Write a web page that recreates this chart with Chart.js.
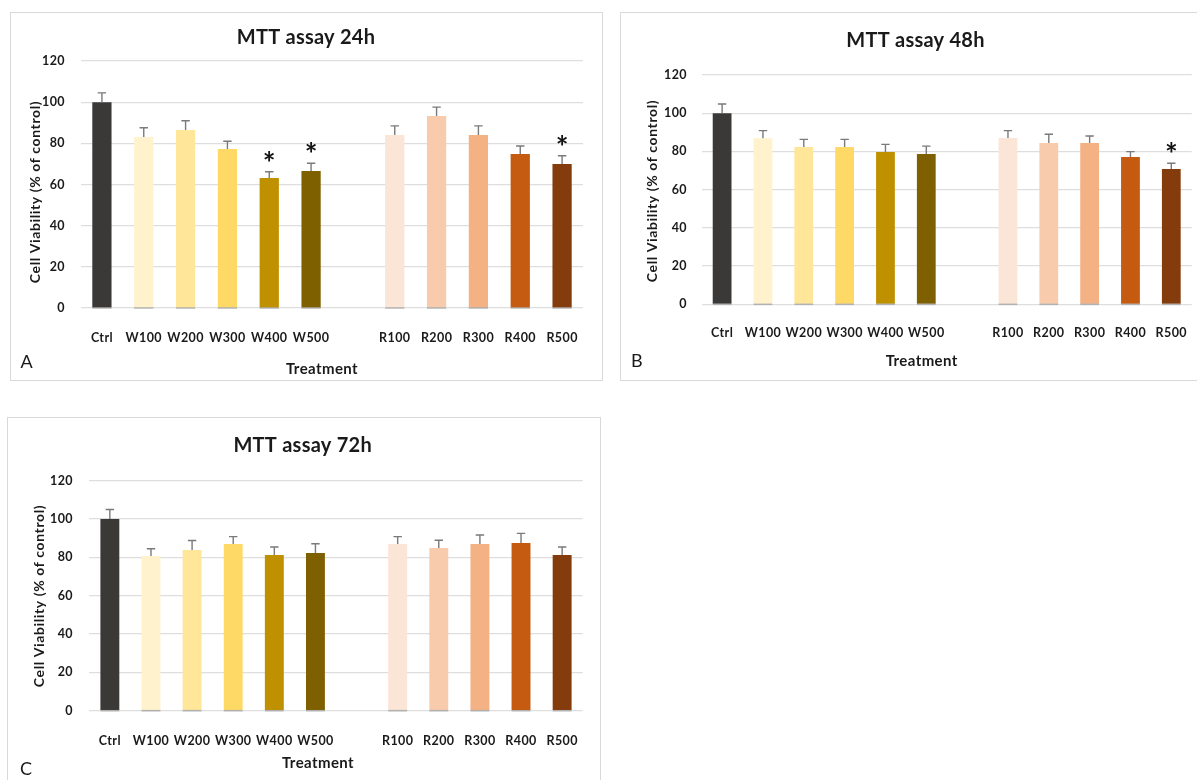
<!DOCTYPE html>
<html>
<head>
<meta charset="utf-8">
<title>MTT assay – cell viability</title>
<script src="https://cdn.jsdelivr.net/npm/chart.js@4.4.1/dist/chart.umd.min.js"></script>
<style>
  html, body { margin: 0; padding: 0; background: #fff; width: 1197px; height: 780px; overflow: hidden; }
  canvas { position: absolute; }
  .frame { position: absolute; box-sizing: border-box; border: 1px solid #d9d9d9; pointer-events: none; }
</style>
</head>
<body>
<script>
// ---- data -------------------------------------------------------------
// Treatment groups (empty slot separates the W and R series)
const treatments = ['Ctrl', 'W100', 'W200', 'W300', 'W400', 'W500', '', 'R100', 'R200', 'R300', 'R400', 'R500'];

// Cell viability (% of control), mean and SD
const viability24h = [100, 83.1, 86.5, 77.2, 63.2, 66.6, null, 84.0, 93.3, 84.0, 74.8, 70.0];
const sd24h        = [4.5, 4.5, 4.5, 3.8, 3.0, 3.7, null, 4.5, 4.3, 4.5, 3.9, 4.0];
const significant24h = ['W400', 'W500', 'R500'];

const viability48h = [100, 86.9, 82.3, 82.3, 79.7, 78.7, null, 87.0, 84.4, 84.4, 77.1, 70.8];
const sd48h        = [4.8, 4.0, 4.0, 4.0, 4.0, 4.1, null, 3.9, 4.6, 3.7, 2.8, 3.0];
const significant48h = ['R500'];

const viability72h = [100, 80.7, 83.8, 87.0, 81.2, 82.3, null, 87.0, 84.9, 87.0, 87.5, 81.2];
const sd72h        = [5.0, 3.8, 5.0, 3.8, 4.2, 4.8, null, 3.8, 4.0, 4.7, 5.0, 4.2];
const significant72h = [];

const yTicks = [0, 20, 40, 60, 80, 100, 120];

// ---- styling ----------------------------------------------------------
const barColors = ['#3b3838', '#fff2cc', '#ffe699', '#ffd966', '#bf9000', '#7f6000', 'rgba(0,0,0,0)',
                   '#fbe5d6', '#f8cbad', '#f4b183', '#c55a11', '#843c0c'];
const FONT = 'Lato, "Open Sans", "Liberation Sans", sans-serif';
const TEXT = '#1a1a1a';

// Panel geometry (canvas origin on the page, plot area inside the canvas, text anchors)
const panels = [
  {
    title: 'MTT assay 24h', letter: 'A',
    values: viability24h, sd: sd24h, sig: significant24h,
    left: 10, top: 12, width: 593, height: 369, frameW: 593, frameH: 369,
    area: { l: 71, r: 573, t: 49, b: 296 }, yPad: 16, xPad: 14.6,
    titlePos: [296, 25.5], yTitlePos: [25.5, 180], xTitlePos: [312, 356.7], letterPos: [16.5, 349.7]
  },
  {
    title: 'MTT assay 48h', letter: 'B',
    values: viability48h, sd: sd48h, sig: significant48h,
    left: 620, top: 12, width: 580, height: 369, frameW: 590, frameH: 369,
    area: { l: 81.7, r: 575, t: 63, b: 292.3 }, yPad: 14.7, xPad: 13.6,
    titlePos: [295.5, 28.8], yTitlePos: [32.5, 179], xTitlePos: [301.7, 349], letterPos: [16.7, 348.7]
  },
  {
    title: 'MTT assay 72h', letter: 'C',
    values: viability72h, sd: sd72h, sig: significant72h,
    left: 7, top: 417, width: 594, height: 366, frameW: 594, frameH: 380,
    area: { l: 82.3, r: 575.7, t: 63.7, b: 293.7 }, yPad: 16.3, xPad: 15.2,
    titlePos: [295.7, 28.8], yTitlePos: [32.5, 179], xTitlePos: [311, 345.8], letterPos: [19, 352]
  }
];

// Error bars, significance marks and panel texts
function makeOverlay(p) {
  return {
    id: 'mttOverlay',
    beforeDraw(chart) {
      // slightly open tracking for the axis labels
      chart.ctx.letterSpacing = '0.4px';
    },
    afterDatasetsDraw(chart) {
      const ctx = chart.ctx;
      const ys = chart.scales.y;
      const meta = chart.getDatasetMeta(0);
      const base = ys.getPixelForValue(0);
      ctx.save();
      ctx.letterSpacing = '0px';
      meta.data.forEach((bar, i) => {
        const v = p.values[i];
        if (v == null) return;
        // axis line showing through the bar foot
        ctx.strokeStyle = 'rgba(140,140,140,0.55)';
        ctx.lineWidth = 1.6;
        ctx.beginPath();
        ctx.moveTo(bar.x - bar.width / 2, base);
        ctx.lineTo(bar.x + bar.width / 2, base);
        ctx.stroke();
        // upper error bar
        const yTop = ys.getPixelForValue(v + p.sd[i]);
        ctx.strokeStyle = '#7a7a7a';
        ctx.lineWidth = 1.4;
        ctx.beginPath();
        ctx.moveTo(bar.x, bar.y);
        ctx.lineTo(bar.x, yTop);
        ctx.moveTo(bar.x - 4.2, yTop);
        ctx.lineTo(bar.x + 4.2, yTop);
        ctx.stroke();
        // significance asterisk
        if (p.sig.includes(treatments[i])) {
          ctx.fillStyle = '#111';
          ctx.font = `bold 30px ${FONT}`;
          ctx.textAlign = 'center';
          ctx.textBaseline = 'alphabetic';
          const m = ctx.measureText('*');
          const glyphBottom = yTop - 10;
          ctx.fillText('*', bar.x, glyphBottom - m.actualBoundingBoxDescent);
        }
      });
      ctx.restore();
    },
    afterDraw(chart) {
      const ctx = chart.ctx;
      ctx.save();
      ctx.fillStyle = TEXT;
      ctx.textAlign = 'center';
      ctx.textBaseline = 'middle';
      ctx.letterSpacing = '0.25px';
      ctx.font = `bold 20px ${FONT}`;
      ctx.fillText(p.title, p.titlePos[0], p.titlePos[1]);
      ctx.letterSpacing = '0.4px';
      ctx.font = `bold 15px ${FONT}`;
      ctx.fillText('Treatment', p.xTitlePos[0], p.xTitlePos[1]);
      ctx.save();
      ctx.translate(p.yTitlePos[0], p.yTitlePos[1]);
      ctx.rotate(-Math.PI / 2);
      ctx.letterSpacing = '0.6px';
      ctx.font = `bold 14px ${FONT}`;
      ctx.fillText('Cell Viability (% of control)', 0, 0);
      ctx.restore();
      ctx.letterSpacing = '0px';
      ctx.font = `18px ${FONT}`;
      ctx.fillText(p.letter, p.letterPos[0], p.letterPos[1]);
      ctx.restore();
      ctx.letterSpacing = '0px';
    }
  };
}

panels.forEach(p => {
  const canvas = document.createElement('canvas');
  canvas.width = p.width;
  canvas.height = p.height;
  canvas.style.left = p.left + 'px';
  canvas.style.top = p.top + 'px';
  canvas.style.width = p.width + 'px';
  canvas.style.height = p.height + 'px';
  document.body.appendChild(canvas);

  const frame = document.createElement('div');
  frame.className = 'frame';
  frame.style.left = p.left + 'px';
  frame.style.top = p.top + 'px';
  frame.style.width = p.frameW + 'px';
  frame.style.height = p.frameH + 'px';
  document.body.appendChild(frame);

  new Chart(canvas, {
    type: 'bar',
    data: {
      labels: treatments,
      datasets: [{
        data: p.values,
        backgroundColor: barColors,
        borderWidth: 0,
        barPercentage: 0.46,
        categoryPercentage: 1
      }]
    },
    options: {
      responsive: false,
      animation: false,
      devicePixelRatio: 1,
      layout: { padding: { left: 0, top: p.area.t, right: p.width - p.area.r, bottom: 0 } },
      plugins: { legend: { display: false }, title: { display: false }, tooltip: { enabled: false } },
      scales: {
        x: {
          grid: { display: false },
          border: { display: false },
          ticks: { color: TEXT, font: { family: FONT, size: 12.5, weight: 'bold' }, padding: p.xPad, maxRotation: 0, autoSkip: false },
          afterFit: s => { s.height = p.height - p.area.b; }
        },
        y: {
          min: yTicks[0],
          max: yTicks[yTicks.length - 1],
          afterBuildTicks: s => { s.ticks = yTicks.map(v => ({ value: v })); },
          grid: { color: '#dedede', lineWidth: 1.2, drawTicks: false },
          border: { display: false },
          ticks: { color: TEXT, font: { family: FONT, size: 12.5, weight: 'bold' }, padding: p.yPad },
          afterFit: s => { s.width = p.area.l; }
        }
      }
    },
    plugins: [makeOverlay(p)]
  });
});
</script>
</body>
</html>
